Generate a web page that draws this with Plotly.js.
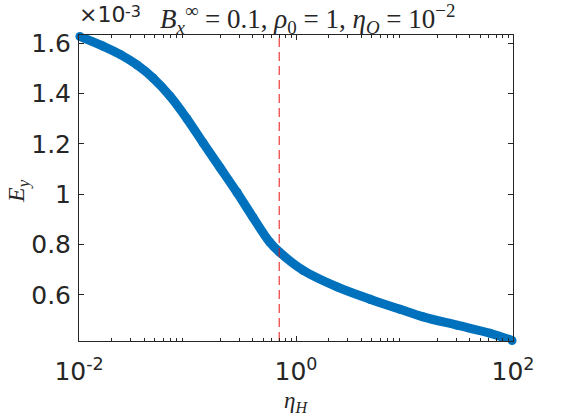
<!DOCTYPE html>
<html>
<head>
<meta charset="utf-8">
<script src="https://cdn.plot.ly/plotly-3.0.1.min.js"></script>
<style>html,body{margin:0;padding:0;background:#fff;}#chart{width:568px;height:416px;}</style>
</head>
<body>
<div id="chart"></div>
<script>
// eta_H values
var etaH = [0.0102, 0.0166, 0.0239, 0.0343, 0.0481, 0.0690, 0.0989, 0.139, 0.1995, 0.286, 0.402, 0.575, 0.705, 1.16, 2.39, 4.81, 9.10, 14.8, 30.5, 61.4, 98];
// E_y values
var Ey = [1.627e-3, 1.589e-3, 1.556e-3, 1.514e-3, 1.462e-3, 1.390e-3, 1.300e-3, 1.205e-3, 1.106e-3, 1.007e-3, 0.908e-3, 0.809e-3, 0.770e-3, 0.698e-3, 0.632e-3, 0.583e-3, 0.543e-3, 0.513e-3, 0.480e-3, 0.448e-3, 0.419e-3];
var dashX = 0.7;
var xTickVals = [0.01, 1, 100];
var xTickText = ['10<sup>-2</sup>', '10<sup>0</sup>', '10<sup>2</sup>'];
var yTickVals = [0.6e-3, 0.8e-3, 1.0e-3, 1.2e-3, 1.4e-3, 1.6e-3];
var yTickText = ['0.6', '0.8', '1', '1.2', '1.4', '1.6'];
var yRange = [0.417e-3, 1.633e-3];

var minorVals = [];
[0.01, 0.1, 1, 10].forEach(function (d) { for (var k = 2; k <= 9; k++) minorVals.push(d * k); });

var axColor = '#262626';
var traces = [
  {
    x: etaH, y: Ey, type: 'scatter', mode: 'lines+markers',
    line: {color: '#0072BD', width: 9, shape: 'spline', smoothing: 1},
    marker: {color: '#0072BD', size: 9},
    cliponaxis: false, hoverinfo: 'none'
  },
  {
    x: [dashX, dashX], y: yRange, type: 'scatter', mode: 'lines',
    line: {color: '#E81010', width: 1, dash: '9px,5px'}, hoverinfo: 'none'
  }
];

var nb = '\u00a0';
var layout = {
  width: 568, height: 416,
  margin: {l: 79, r: 55, t: 35, b: 75},
  paper_bgcolor: '#fff', plot_bgcolor: '#fff',
  showlegend: false,
  xaxis: {
    type: 'log', range: [-2, 2],
    tickmode: 'array', tickvals: xTickVals, ticktext: xTickText,
    ticks: 'inside', ticklen: 5, tickwidth: 1, tickcolor: axColor,
    minor: {tickmode: 'array', tickvals: minorVals, ticks: 'inside', ticklen: 3, tickcolor: axColor},
    showline: true, linecolor: axColor, linewidth: 1, mirror: 'ticks',
    showgrid: false, zeroline: false, ticklabelstandoff: 8,
    tickfont: {family: 'DejaVu Sans', size: 25, color: axColor}
  },
  yaxis: {
    range: yRange,
    tickmode: 'array', tickvals: yTickVals, ticktext: yTickText,
    ticks: 'inside', ticklen: 5, tickwidth: 1, tickcolor: axColor,
    showline: true, linecolor: axColor, linewidth: 1, mirror: 'ticks',
    showgrid: false, zeroline: false, ticklabelstandoff: 2,
    tickfont: {family: 'DejaVu Sans', size: 25, color: axColor}
  },
  title: {
    text: '<i>B</i><sub><i>x</i></sub><sup>∞</sup>' + nb + '=' + nb + '0.1, <i>ρ</i><sub>0</sub>' + nb + '=' + nb + '1, <i>η</i><sub><i>O</i></sub>' + nb + '=' + nb + '10<sup>−2</sup>',
    font: {family: 'Liberation Serif', size: 27, color: axColor},
    x: 160 / 568, xref: 'container', xanchor: 'left',
    y: 0.955, yref: 'container', yanchor: 'middle'
  },
  annotations: [
    {text: '×10', xref: 'paper', yref: 'paper', x: 0, y: 1, xanchor: 'left', yanchor: 'bottom',
     xshift: -2, yshift: 6, showarrow: false, font: {family: 'DejaVu Sans', size: 22, color: axColor}},
    {text: '-3', xref: 'paper', yref: 'paper', x: 0, y: 1, xanchor: 'left', yanchor: 'bottom',
     xshift: 44, yshift: 12, showarrow: false, font: {family: 'DejaVu Sans', size: 16, color: axColor}},
    {text: '<i>E</i><sub><i>y</i></sub>', xref: 'paper', yref: 'paper', x: 0, y: 0.5, xanchor: 'center', yanchor: 'middle',
     xshift: -61, yshift: -3, textangle: -90, showarrow: false, font: {family: 'Liberation Serif', size: 24, color: axColor}},
    {text: '<i>η</i><sub><i>H</i></sub>', xref: 'paper', yref: 'paper', x: 0.5, y: 0, xanchor: 'center', yanchor: 'middle',
     yshift: -61, showarrow: false, font: {family: 'Liberation Serif', size: 23, color: axColor}}
  ]
};

Plotly.newPlot('chart', traces, layout, {staticPlot: true, displayModeBar: false});
</script>
</body>
</html>
